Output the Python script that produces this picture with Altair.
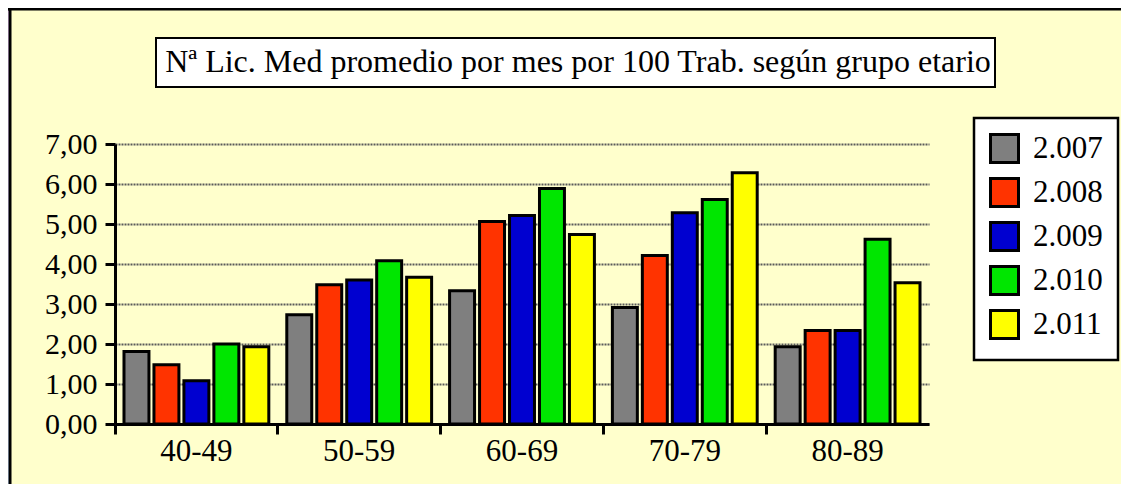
import altair as alt
import pandas as pd

groups = ["40-49", "50-59", "60-69", "70-79", "80-89"]
years = ["2.007", "2.008", "2.009", "2.010", "2.011"]
v2007 = [1.81, 2.73, 3.33, 2.91, 1.93]
v2008 = [1.48, 3.48, 5.06, 4.21, 2.34]
v2009 = [1.08, 3.60, 5.21, 5.28, 2.34]
v2010 = [2.00, 4.08, 5.89, 5.61, 4.62]
v2011 = [1.93, 3.67, 4.74, 6.28, 3.53]
colors = ["#7F7F7F", "#FF3300", "#0000D0", "#00E600", "#FFFF00"]
title_text = "Nª Lic. Med promedio por mes por 100 Trab. según grupo etario"
y_ticks = [0, 1, 2, 3, 4, 5, 6, 7]

rows = []
for yr, vals in zip(years, [v2007, v2008, v2009, v2010, v2011]):
    for g, v in zip(groups, vals):
        rows.append({"grupo": g, "anio": yr, "valor": v})
df = pd.DataFrame(rows)
one = pd.DataFrame({"k": [0]})

W, H = 814, 280
FONT = "Liberation Serif"

# left edge: pink-to-blue strip, then the black frame of the yellow panel
strip = alt.Chart(one).mark_rect(
    fill=alt.Gradient(
        gradient="linear",
        stops=[alt.GradientStop(color="#F5CCFF", offset=0),
               alt.GradientStop(color="#C8E4FF", offset=1),
               ],
        x1=0, x2=0, y1=0, y2=1,
    ),
    stroke="black", strokeWidth=3,
).encode(x=alt.value(-130), x2=alt.value(-105), y=alt.value(-135), y2=alt.value(360))

border_top = alt.Chart(one).mark_rect(fill="black").encode(
    x=alt.value(-106.5), x2=alt.value(1010), y=alt.value(-137), y2=alt.value(-133.5)
)

title_box = alt.Chart(one).mark_rect(fill="white", stroke="black", strokeWidth=2).encode(
    x=alt.value(41), x2=alt.value(880), y=alt.value(-106), y2=alt.value(-57)
)

title = alt.Chart(one).mark_text(
    font=FONT, fontSize=32, align="center", baseline="alphabetic", color="black", text=title_text
).encode(x=alt.value(463), y=alt.value(-72))

bars = alt.Chart(df).mark_bar(stroke="black", strokeWidth=3, strokeJoin="miter", opacity=1).encode(
    x=alt.X(
        "grupo:N", sort=groups,
        scale=alt.Scale(paddingInner=0, paddingOuter=0),
        axis=alt.Axis(
            title=None, labelAngle=0, bandPosition=0, tickSize=10, tickWidth=3,
            domainWidth=3, domainColor="black", tickColor="black",
            labelFont=FONT, labelFontSize=31, labelColor="black", labelPadding=2, grid=False,
        ),
    ),
    xOffset=alt.XOffset("anio:N", sort=years, scale=alt.Scale(paddingInner=0.167, paddingOuter=0.3)),
    y=alt.Y(
        "valor:Q",
        scale=alt.Scale(domain=[0, 7], nice=False),
        axis=alt.Axis(
            title=None, values=y_ticks,
            labelExpr="replace(format(datum.value, '.2f'), '.', ',')",
            tickSize=10, tickWidth=3, domainWidth=3, domainColor="black", tickColor="black",
            grid=True, gridColor="#5A5A5A", gridDash=[2, 1], gridWidth=2,
            labelFont=FONT, labelFontSize=30, labelColor="black", labelPadding=8,
        ),
    ),
    color=alt.Color(
        "anio:N", sort=years,
        scale=alt.Scale(domain=years, range=colors),
        legend=alt.Legend(
            title=None, orient="none", legendX=859, legendY=-26, direction="vertical",
            symbolType="square", symbolSize=784, symbolStrokeWidth=3, symbolStrokeColor="black",
            symbolOpacity=1, labelFont=FONT, labelFontSize=31, labelColor="black",
            labelOffset=13, rowPadding=3, padding=15, fillColor="white", strokeColor="black",
        ),
    ),
)

chart = alt.layer(strip, border_top, title_box, title, bars).properties(
    width=W, height=H,
    padding={"left": 107, "top": 136, "right": 192, "bottom": 60},
    autosize=alt.AutoSizeParams(type="none"),
    background="#FFFFCC",
).configure_view(stroke="transparent").configure_legend(strokeWidth=2.5)

chart.save("out.html", embed_options={"renderer": "svg", "actions": False})
